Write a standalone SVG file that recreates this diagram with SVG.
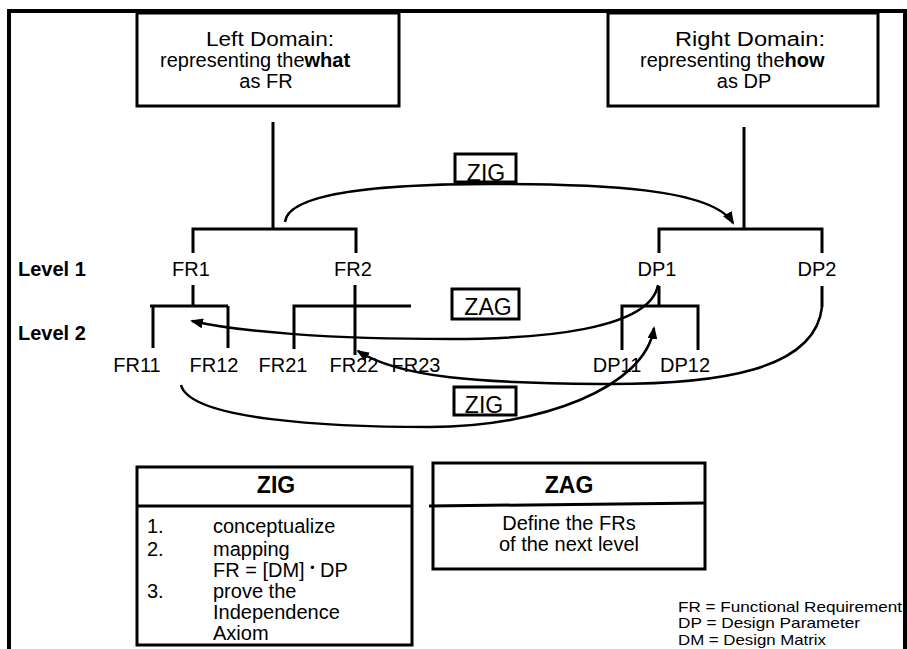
<svg xmlns="http://www.w3.org/2000/svg" width="907" height="649" viewBox="0 0 907 649">
<style>
text{font-family:"Liberation Sans",Arial,sans-serif;fill:#000;font-size:20px}
.c{text-anchor:middle}
.b{font-weight:bold}
.h{font-size:23px;font-weight:bold}
.lg{font-size:14.5px}
.lab{font-size:23px}
.box{fill:#fff;stroke:#000;stroke-width:3}
.ln{fill:none;stroke:#000;stroke-width:3}
.frame{fill:none;stroke:#000;stroke-width:4}
.arr{fill:none;stroke:#000;stroke-width:2.5;marker-end:url(#ah)}
</style>
<defs>
<marker id="ah" markerUnits="userSpaceOnUse" markerWidth="13" markerHeight="10" refX="11" refY="5" orient="auto"><path d="M0,0 L13,5 L0,10 z"/></marker>
</defs>
<rect width="907" height="649" fill="#fff"/>
<path class="frame" d="M9,649 V11 H905 V649"/>

<g id="left-domain">
<rect class="box" x="137" y="13" width="262" height="93"/>
<text class="c" x="270" y="46" textLength="128" lengthAdjust="spacingAndGlyphs">Left Domain:</text>
<text x="160" y="67">representing the<tspan class="b">what</tspan></text>
<text class="c" x="266" y="88">as FR</text>
</g>

<g id="right-domain">
<rect class="box" x="608" y="13" width="270" height="93"/>
<text class="c" x="750" y="46" textLength="150" lengthAdjust="spacingAndGlyphs">Right Domain:</text>
<text x="640" y="67">representing the<tspan class="b">how</tspan></text>
<text class="c" x="744" y="88">as DP</text>
</g>

<g id="tree-left">
<path class="ln" d="M273,122 V229 M193,253 V229 H356 V253 M193,285 V306 M150,306 H228 M153,306 V348 M228,306 V348 M355,285 V355 M294,349 V306 H411"/>
</g>
<g id="tree-right">
<path class="ln" d="M744,127 V229 M659,253 V229 H822 V253 M659,286 V306 M622,350 V306 H698 V350 M822,286 V307"/>
</g>

<g id="level-labels">
<text class="b" x="18" y="276">Level 1</text>
<text class="b" x="18" y="340">Level 2</text>
</g>

<g id="FR1"><text class="c" x="191" y="276">FR1</text></g>
<g id="FR2"><text class="c" x="353" y="276">FR2</text></g>
<g id="DP1"><text class="c" x="657" y="276">DP1</text></g>
<g id="DP2"><text class="c" x="817" y="276">DP2</text></g>
<g id="FR11"><text class="c" x="137" y="372">FR11</text></g>
<g id="FR12"><text class="c" x="214" y="372">FR12</text></g>
<g id="FR21"><text class="c" x="283" y="372">FR21</text></g>
<g id="FR22"><text class="c" x="354" y="372">FR22</text></g>
<g id="FR23"><text class="c" x="416" y="372">FR23</text></g>
<g id="DP11"><text class="c" x="617" y="372">DP11</text></g>
<g id="DP12"><text class="c" x="685" y="372">DP12</text></g>

<g id="label-zig-top">
<rect class="box" x="455" y="154" width="61" height="28" stroke-width="2.5"/>
<text class="c lab" x="486" y="181">ZIG</text>
</g>
<g id="label-zag">
<rect class="box" x="452" y="289" width="67" height="30" stroke-width="2.5"/>
<text class="c lab" x="488" y="315">ZAG</text>
</g>
<g id="label-zig-bottom">
<rect class="box" x="454" y="387" width="62" height="28" stroke-width="2.5"/>
<text class="c lab" x="484" y="413">ZIG</text>
</g>

<g id="connectors">
<path class="arr" d="M285,222 C288,193 380,184 490,184 C600,184 712,188 733,223"/>
<path class="arr" d="M658,285 C650,330 540,339 450,339 C330,339 240,332 192,321"/>
<path class="arr" d="M822,307 C815,370 720,385 600,384 C480,383 400,378 358,351"/>
<path class="arr" d="M181,385 C190,420 330,427 430,427 C540,427 645,388 654,328"/>
</g>

<g id="zig-box">
<rect class="box" x="137" y="467" width="275" height="178"/>
<path class="ln" d="M137,506 H412"/>
<text class="c h" x="276" y="493">ZIG</text>
<text x="147" y="533">1.</text><text x="213" y="533">conceptualize</text>
<text x="147" y="556">2.</text><text x="213" y="556">mapping</text>
<text x="213" y="577">FR = [DM] <tspan font-size="12" dy="-5">•</tspan><tspan dy="5"> DP</tspan></text>
<text x="147" y="598">3.</text><text x="213" y="598">prove the</text>
<text x="213" y="619">Independence</text>
<text x="213" y="640">Axiom</text>
</g>

<g id="zag-box">
<rect class="box" x="433" y="463" width="272" height="106"/>
<path class="ln" d="M429,506 L705,503"/>
<text class="c h" x="569" y="493">ZAG</text>
<text class="c" x="569" y="530">Define the FRs</text>
<text class="c" x="569" y="551">of the next level</text>
</g>

<g id="legend">
<text class="lg" x="678" y="612" textLength="224" lengthAdjust="spacingAndGlyphs">FR = Functional Requirement</text>
<text class="lg" x="678" y="628" textLength="182" lengthAdjust="spacingAndGlyphs">DP = Design Parameter</text>
<text class="lg" x="678" y="645" textLength="148" lengthAdjust="spacingAndGlyphs">DM = Design Matrix</text>
</g>
</svg>
